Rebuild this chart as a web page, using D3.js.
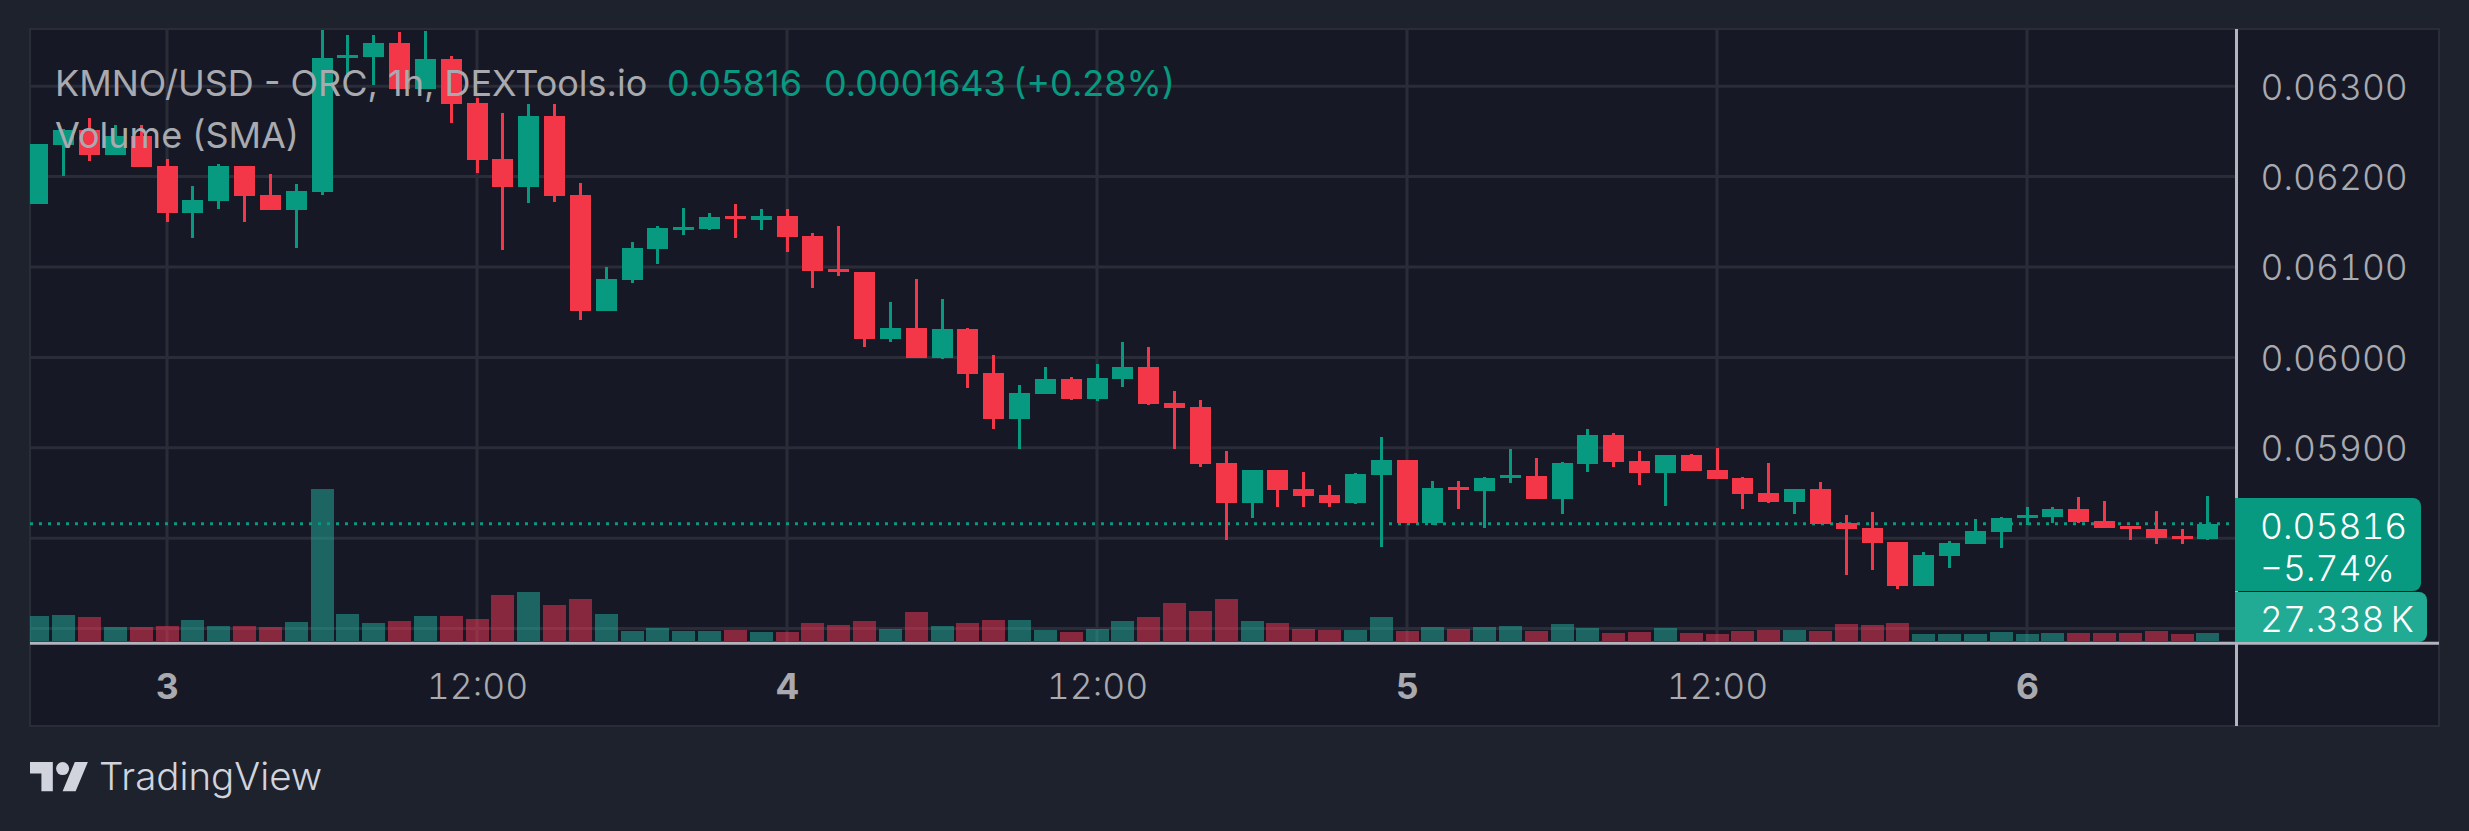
<!DOCTYPE html>
<html><head><meta charset="utf-8">
<script src="https://cdn.jsdelivr.net/npm/d3@7/dist/d3.min.js"></script>
<style>
html,body{margin:0;padding:0;background:#1e222d;overflow:hidden}
svg{display:block}
text{font-family:Inter,"Noto Sans",sans-serif}
.tab{font-variant-numeric:tabular-nums;font-feature-settings:"tnum" 1}
</style></head><body>
<svg id="c" width="2469" height="831"></svg>
<script>
// Hourly candles; the first one sits 5 h before the "3" tick.
const opens=[.061697,.062350,.062516,.062239,.062449,.062117,.061597,.061730,.062117,.061796,.061631,.061830,.063312,.063323,.063478,.062969,.063301,.062814,.062195,.061885,.062670,.061796,.060513,.060856,.061199,.061409,.061420,.061564,.061520,.061564,.061343,.060978,.060945,.060204,.060325,.059993,.060314,.059827,.059318,.059595,.059761,.059540,.059761,.059894,.059495,.059451,.058832,.058389,.058754,.058544,.058478,.058389,.058699,.058865,.058168,.058566,.058522,.058666,.058688,.058434,.058821,.059141,.058854,.058721,.058920,.058754,.058666,.058500,.058400,.058544,.058168,.058113,.057958,.057471,.057803,.057936,.058069,.058223,.058234,.058323,.058190,.058135,.058102,.058024,.057991];
const highs=[.062361,.062526,.062648,.062567,.062567,.062195,.061896,.062140,.062117,.062029,.061918,.063650,.063566,.063566,.063600,.063611,.063334,.062870,.062703,.062803,.062803,.061929,.061000,.061276,.061453,.061653,.061597,.061697,.061642,.061642,.061376,.061453,.060945,.060613,.060867,.060646,.060325,.060026,.059695,.059894,.059783,.059927,.060170,.060115,.059628,.059529,.058964,.058754,.058754,.058732,.058588,.058721,.059119,.058865,.058633,.058633,.058677,.058986,.058887,.058843,.059208,.059163,.058964,.058920,.058931,.058998,.058677,.058832,.058544,.058621,.058257,.058290,.057958,.057847,.057969,.058212,.058234,.058345,.058345,.058456,.058411,.058135,.058301,.058102,.058467];
const lows=[.061697,.062010,.062173,.062239,.062106,.061498,.061321,.061642,.061498,.061631,.061210,.061796,.063102,.063013,.062969,.062969,.062593,.062040,.061188,.061708,.061719,.060414,.060513,.060823,.061033,.061354,.061409,.061321,.061409,.061166,.060768,.060900,.060115,.060170,.059993,.059982,.059661,.059208,.058986,.059595,.059529,.059518,.059672,.059473,.058986,.058787,.057980,.058223,.058345,.058345,.058345,.058378,.057903,.058168,.058146,.058323,.058113,.058610,.058434,.058268,.058732,.058787,.058588,.058356,.058743,.058655,.058323,.058389,.058268,.058157,.057593,.057648,.057438,.057471,.057670,.057936,.057892,.058146,.058168,.058168,.058113,.057980,.057936,.057936,.057980];
const closes=[.062361,.062516,.062239,.062449,.062106,.061597,.061741,.062117,.061785,.061631,.061841,.063312,.063345,.063478,.062969,.063301,.062803,.062184,.061885,.062670,.061785,.060513,.060867,.061210,.061431,.061442,.061553,.061531,.061564,.061332,.060956,.060945,.060204,.060325,.059993,.060314,.059816,.059318,.059606,.059761,.059540,.059772,.059894,.059484,.059440,.058821,.058389,.058754,.058533,.058467,.058389,.058710,.058865,.058168,.058555,.058533,.058666,.058699,.058434,.058832,.059141,.058843,.058721,.058920,.058743,.058655,.058489,.058400,.058544,.058157,.058102,.057947,.057471,.057814,.057947,.058080,.058223,.058257,.058323,.058179,.058113,.058102,.058002,.057991,.058160];
const volumes=[85.4,88.8,82.0,47.8,47.8,51.3,71.8,51.3,51.3,47.8,64.9,519.4,92.3,61.5,68.3,85.4,85.4,75.2,157.2,167.4,123.0,143.5,92.3,34.2,44.4,34.2,34.2,37.6,30.8,30.8,61.5,54.7,68.3,41.0,99.1,51.3,61.5,71.8,71.8,37.6,30.8,41.0,68.3,82.0,129.8,102.5,143.5,68.3,61.5,41.0,37.6,37.6,82.0,34.2,47.8,41.0,47.8,51.3,34.2,58.1,44.4,27.3,30.8,44.4,27.3,23.9,34.2,37.6,37.6,34.2,58.1,54.7,61.5,23.9,23.9,23.9,30.8,23.9,27.3,27.3,27.3,27.3,34.2,23.9,27.338];
const firstHour=-5;
const priceTicks=[.063,.062,.061,.060,.059,.058,.057];
const priceLabels=["0.06300","0.06200","0.06100","0.06000","0.05900","",""];
const timeTicks=[0,12,24,36,48,60,72];
const timeLabels=["3","12:00","4","12:00","5","12:00","6"];
const boldTimeLabels=["3","4","5","6"];
const lastPrice=.05816;

const C={bg:"#1e222d",pane:"#161925",grid:"#2a2d38",axis:"#b2b5be",text:"#a9aab0",up:"#089981",down:"#f43649"};
const L={left:30,right:2439,top:29,bottom:726,axisX:2236.5,baseY:643.3,volBase:641};
const fs=35.5;

const svg=d3.select("#c");
const x=d3.scaleLinear().domain([0,12]).range([167,477]);
const y=d3.scaleLinear().domain([.063,.058]).range([86.2,538.2]);
const v=d3.scaleLinear().domain([0,27.338]).range([L.volBase,L.volBase-8]);
const candles=opens.map((o,i)=>({h:firstHour+i,o,hi:highs[i],lo:lows[i],c:closes[i],vol:volumes[i]}));
const col=d=>d.c>=d.o?C.up:C.down;

svg.append("rect").attr("x",L.left).attr("y",L.top).attr("width",L.right-L.left).attr("height",L.bottom-L.top)
  .attr("fill",C.pane).attr("stroke",C.grid).attr("stroke-width",2);

svg.append("defs").append("clipPath").attr("id","plot").append("rect")
  .attr("x",L.left).attr("y",L.top+1).attr("width",L.axisX-L.left).attr("height",L.baseY-L.top);
const plot=svg.append("g").attr("clip-path","url(#plot)");

// grid
plot.append("g").selectAll("line").data(priceTicks).join("line")
  .attr("x1",L.left).attr("x2",L.axisX).attr("y1",y).attr("y2",y)
  .attr("stroke",C.grid).attr("stroke-width",3);
plot.append("g").selectAll("line").data(timeTicks).join("line")
  .attr("x1",x).attr("x2",x).attr("y1",L.top).attr("y2",L.baseY)
  .attr("stroke",C.grid).attr("stroke-width",3);

// volume
plot.append("g").attr("shape-rendering","crispEdges").selectAll("rect").data(candles).join("rect")
  .attr("x",d=>x(d.h)-11.5).attr("width",23)
  .attr("y",d=>v(d.vol)).attr("height",d=>v(0)-v(d.vol))
  .attr("fill",d=>d.c>=d.o?"#22b2a0":"#f7385a").attr("opacity",.5);

// price line
plot.append("line").attr("x1",L.left).attr("x2",L.axisX).attr("y1",y(lastPrice)).attr("y2",y(lastPrice))
  .attr("stroke",C.up).attr("stroke-width",3).attr("stroke-dasharray","3 6");

// candles
const cg=plot.append("g").attr("shape-rendering","crispEdges");
cg.selectAll("line").data(candles).join("line")
  .attr("x1",d=>x(d.h)).attr("x2",d=>x(d.h)).attr("y1",d=>y(d.hi)).attr("y2",d=>y(d.lo))
  .attr("stroke",col).attr("stroke-width",3);
cg.selectAll("rect").data(candles).join("rect")
  .attr("x",d=>x(d.h)-10.5).attr("width",21)
  .attr("y",d=>y(Math.max(d.o,d.c))).attr("height",d=>Math.abs(y(d.o)-y(d.c)))
  .attr("fill",col);

// axes lines
svg.append("line").attr("x1",L.axisX).attr("x2",L.axisX).attr("y1",L.top).attr("y2",L.bottom).attr("stroke",C.axis).attr("stroke-width",3);
svg.append("line").attr("x1",L.left).attr("x2",L.right).attr("y1",L.baseY).attr("y2",L.baseY).attr("stroke",C.axis).attr("stroke-width",3);

// right axis labels
const ya=svg.append("g").attr("transform",`translate(${L.axisX},1.5)`)
  .call(d3.axisRight(y).tickValues(priceTicks).tickSize(0).tickPadding(24).tickFormat((d,i)=>priceLabels[i]));
ya.select(".domain").remove();
ya.selectAll("text").attr("class","tab").attr("fill",C.text).attr("font-size",fs).style("font-family","Inter").attr("font-weight",350);

// bottom axis labels
const xa=svg.append("g").attr("transform",`translate(0,${L.baseY})`)
  .call(d3.axisBottom(x).tickValues(timeTicks).tickSize(0).tickPadding(30).tickFormat((d,i)=>timeLabels[i]));
xa.select(".domain").remove();
xa.selectAll("text").attr("class","tab").attr("fill",C.text).attr("font-size",fs).style("font-family","Inter")
  .attr("font-weight",(d,i)=>boldTimeLabels.includes(timeLabels[i])?700:350);

// last price badges
svg.append("path").attr("fill",C.up).attr("d",badge(2235,498,186,93));
svg.append("path").attr("fill","#22ab94").attr("d",badge(2235,592,192,50));
function badge(px,py,w,h){const r=8;return `M${px},${py}h${w-r}a${r},${r} 0 0 1 ${r},${r}v${h-2*r}a${r},${r} 0 0 1 ${-r},${r}h${-(w-r)}z`;}
function label(txt,px,py,fill,o={}){return svg.append("text").text(txt).attr("x",px).attr("y",py)
  .attr("class",o.tab?"tab":null).attr("fill",fill).attr("font-size",o.size||fs).attr("font-weight",o.w||400)
  .attr("dominant-baseline","central").attr("text-anchor",o.anchor||"start");}
label("0.05816",2260,526,"#fff",{tab:1,w:350});
label("\u22125.74%",2260,568,"#fff",{tab:1,w:350});
label("27.338\u2009K",2260,619,"#fff",{tab:1,w:350});

// legend
label("KMNO/USD - ORC, 1h, DEXTools.io",55,83,C.text,{size:36});
label("0.05816",667,83,C.up,{size:36});
label("0.0001643",824,83,C.up,{size:36});
label("(+0.28%)",1175,83,C.up,{size:36,anchor:"end"});
label("Volume (SMA)",55,135,C.text,{size:36});

// TradingView mark
svg.append("g").attr("transform","translate(30,755.5) scale(1.63)").attr("fill","#d1d4dc")
  .call(g=>{g.append("path").attr("d","M14 22H7V11H0V4h14v18zM28 22h-8l7.5-18h8L28 22z");
            g.append("circle").attr("cx",20).attr("cy",8).attr("r",4);});
label("TradingView",99,776,"#d1d4dc",{size:38.5,w:350});
</script>
</body></html>
